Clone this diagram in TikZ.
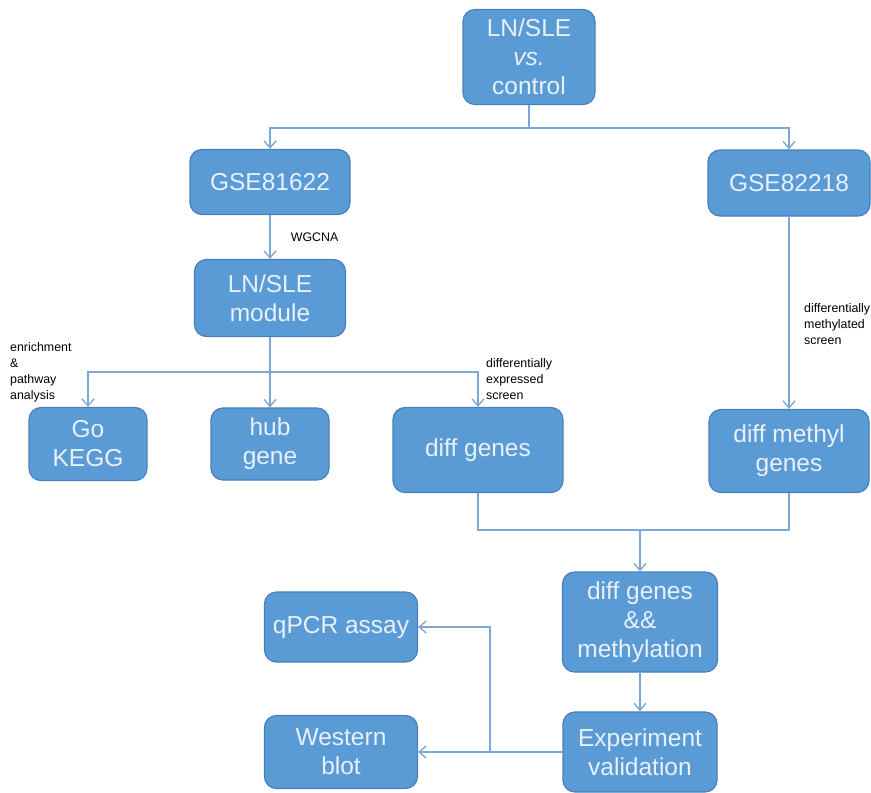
\documentclass[tikz,border=0pt]{standalone}
\usepackage{fontspec}
\setmainfont{Liberation Sans}
\usetikzlibrary{arrows.meta}
\definecolor{boxfill}{RGB}{91,155,213}
\definecolor{boxline}{RGB}{70,128,186}
\definecolor{wire}{RGB}{125,168,212}
\definecolor{boxtext}{RGB}{232,240,249}

\begin{document}
\begin{tikzpicture}[x=1pt,y=-1pt,
                    wire/.style={draw=wire,line width=1.6pt},
                    arr/.style={wire,-{Straight Barb[length=7pt,width=12pt,line width=1.4pt]}},
                    flow node/.style={rectangle,rounded corners=12pt,draw=boxline,line width=1.2pt,
                      fill=boxfill,text=boxtext,align=center,inner sep=0pt,
                      font=\fontsize{24.5}{29}\selectfont},
                    note node/.style={align=left,inner sep=0pt,font=\fontsize{12.4}{16}\selectfont}]
  \useasboundingbox (0,0) rectangle (871,793);

  \node[flow node,minimum width=132pt,minimum height=95pt] (1) at (529,57) {LN/SLE\\\textit{vs.}\\control};
  \node[flow node,minimum width=160pt,minimum height=65pt] (2) at (270,182) {GSE81622};
  \node[flow node,minimum width=162pt,minimum height=66pt] (3) at (789,183) {GSE82218};
  \node[flow node,minimum width=151pt,minimum height=77pt] (4) at (270,298) {LN/SLE\\module};
  \node[flow node,minimum width=118pt,minimum height=73pt] (5) at (88,444) {Go\\KEGG};
  \node[flow node,minimum width=118pt,minimum height=72pt] (6) at (270,444) {hub\\gene};
  \node[flow node,minimum width=170pt,minimum height=85pt] (7) at (478,450) {diff genes};
  \node[flow node,minimum width=160pt,minimum height=83pt] (8) at (789,451) {diff methyl\\genes};
  \node[flow node,minimum width=155pt,minimum height=100pt] (9) at (640,622) {diff genes\\\&\&\\methylation};
  \node[flow node,minimum width=154pt,minimum height=80pt] (10) at (640,752) {Experiment\\validation};
  \node[flow node,minimum width=153pt,minimum height=70pt] (11) at (341,627) {qPCR assay};
  \node[flow node,minimum width=153pt,minimum height=73pt] (12) at (341,752) {Western\\blot};

  \coordinate (a) at (529,128);
  \coordinate (b) at (270,372);
  \coordinate (c) at (640,530);
  \coordinate (d) at (490,752);

  \draw[wire] (1) -- (a);
  \draw[arr] (a) -| (2);
  \draw[arr] (a) -| (3);
  \draw[arr] (2) -- node[note node,right=20pt] {WGCNA} (4);
  \draw[wire] (4) -- (b);
  \draw[arr] (b) -| (5);
  \draw[arr] (b) -- (6);
  \draw[arr] (b) -| (7);
  \draw[arr] (3) -- (8);
  \draw[wire] (7) |- (c) -| (8);
  \draw[arr] (c) -- (9);
  \draw[arr] (9) -- (10);
  \draw[arr] (10) -- (12);
  \draw[arr] (d) |- (11);

  \node[note node,anchor=west] (n1) at (10,372) {enrichment\\\&\\pathway\\analysis};
  \node[note node,anchor=west] (n2) at (486,379) {differentially\\expressed\\screen};
  \node[note node,anchor=west] (n3) at (804,324) {differentially\\methylated\\screen};
\end{tikzpicture}
\end{document}
